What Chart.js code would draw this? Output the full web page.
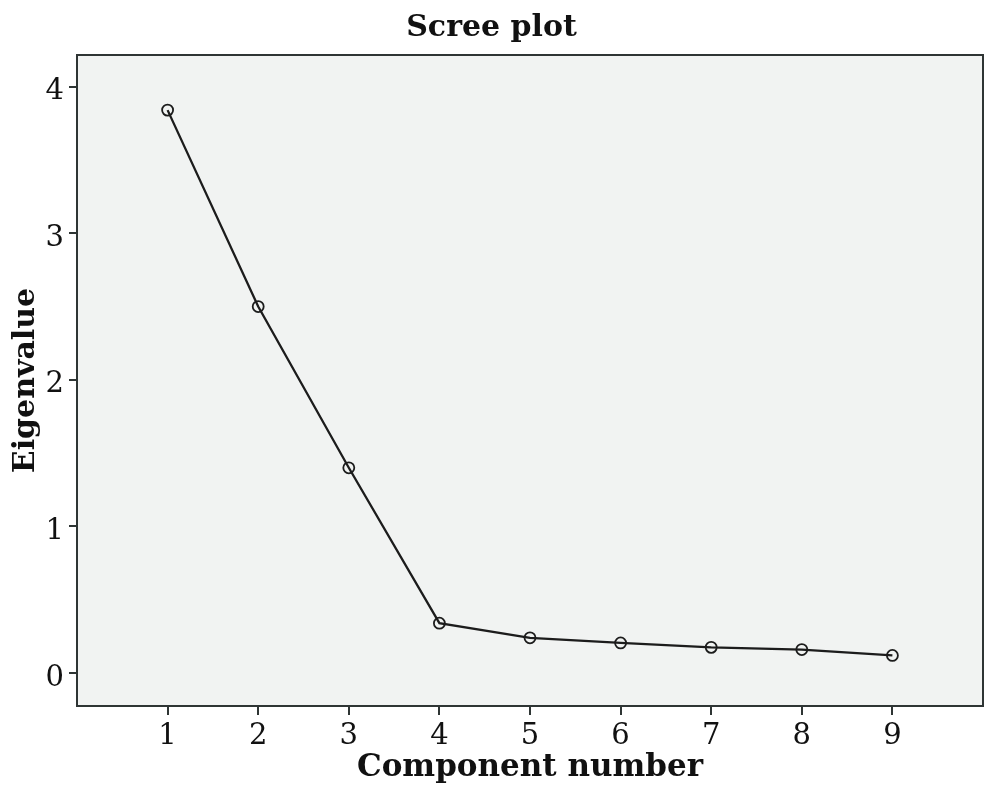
<!DOCTYPE html>
<html>
<head>
<meta charset="utf-8">
<script src="https://cdn.jsdelivr.net/npm/chart.js@4"></script>
<style>
  html, body { margin: 0; padding: 0; background: #ffffff; }
  #wrap { width: 1000px; height: 801px; }
</style>
</head>
<body>
<div id="wrap"><canvas id="c" width="1000" height="801"></canvas></div>
<script>
const components = [1, 2, 3, 4, 5, 6, 7, 8, 9];
const eigenvalues = [3.84, 2.50, 1.40, 0.34, 0.24, 0.205, 0.175, 0.16, 0.12];
const xTicks = [1, 2, 3, 4, 5, 6, 7, 8, 9];
const yTicks = [0, 1, 2, 3, 4];
const chartTitle = 'Scree plot';
const xTitle = 'Component number';
const yTitle = 'Eigenvalue';

const boxPlugin = {
  id: 'box',
  beforeDraw(chart) {
    const {ctx, chartArea: a} = chart;
    ctx.save();
    ctx.fillStyle = '#f1f3f2';
    ctx.fillRect(a.left, a.top, a.right - a.left, a.bottom - a.top);
    ctx.restore();
  },
  afterDraw(chart) {
    const {ctx, chartArea: a} = chart;
    ctx.save();
    ctx.strokeStyle = '#2e3534';
    ctx.lineWidth = 2;
    ctx.strokeRect(a.left, a.top, a.right - a.left, a.bottom - a.top);
    ctx.restore();
  }
};

new Chart(document.getElementById('c'), {
  type: 'scatter',
  data: {
    datasets: [{
      data: components.map((c, i) => ({x: c, y: eigenvalues[i]})),
      showLine: true,
      borderColor: '#1c1c1c',
      borderWidth: 2.3,
      pointStyle: 'circle',
      pointRadius: 5.5,
      pointBorderWidth: 1.8,
      pointBorderColor: '#1c1c1c',
      pointBackgroundColor: 'rgba(0,0,0,0)',
      tension: 0
    }]
  },
  options: {
    responsive: false,
    animation: false,
    devicePixelRatio: 1,
    layout: { padding: { left: 0, right: 17, top: 0, bottom: 0 } },
    plugins: {
      legend: { display: false },
      tooltip: { enabled: false },
      title: {
        display: true,
        text: chartTitle,
        color: '#111111',
        font: { family: 'DejaVu Serif', size: 30, weight: 'bold', lineHeight: 1.2 },
        padding: { top: 10, bottom: 9 }
      }
    },
    scales: {
      x: {
        type: 'linear',
        min: 0,
        max: 10,
        afterBuildTicks(scale) { scale.ticks = xTicks.map(v => ({value: v})); },
        afterFit(scale) { scale.height = 95; },
        ticks: {
          color: '#111111',
          font: { family: 'DejaVu Serif', size: 29 },
          padding: 4,
          maxRotation: 0
        },
        grid: {
          display: true,
          drawOnChartArea: false,
          drawTicks: true,
          tickLength: 9,
          color: '#2e3534',
          lineWidth: 2
        },
        border: { display: true, color: '#2e3534', width: 2 },
        title: {
          display: true,
          text: xTitle,
          color: '#111111',
          font: { family: 'DejaVu Serif', size: 31, weight: 'bold', lineHeight: 1.2 },
          padding: { top: 0, bottom: 14 }
        }
      },
      y: {
        type: 'linear',
        min: -0.225,
        max: 4.216,
        afterBuildTicks(scale) { scale.ticks = yTicks.map(v => ({value: v})); },
        afterFit(scale) { scale.width = 77; },
        ticks: {
          color: '#111111',
          font: { family: 'DejaVu Serif', size: 29 },
          padding: 5,
          labelOffset: 5
        },
        grid: {
          display: true,
          drawOnChartArea: false,
          drawTicks: true,
          tickLength: 8,
          color: '#2e3534',
          lineWidth: 2
        },
        border: { display: true, color: '#2e3534', width: 2 },
        title: {
          display: true,
          text: yTitle,
          color: '#111111',
          font: { family: 'DejaVu Serif', size: 30, weight: 'bold', lineHeight: 1.2 },
          padding: { top: 8, bottom: 0 }
        }
      }
    }
  },
  plugins: [boxPlugin]
});
</script>
</body>
</html>
